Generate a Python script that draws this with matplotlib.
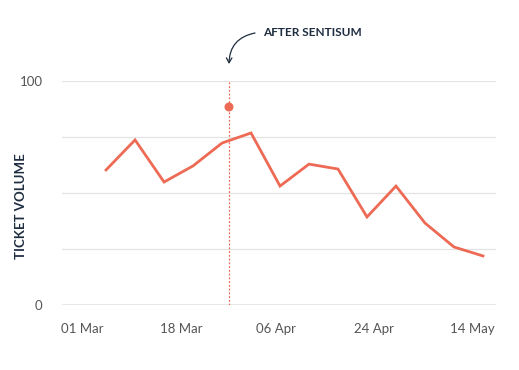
import matplotlib
matplotlib.use("Agg")
import matplotlib.pyplot as plt
import numpy as np

# data
week_index = list(range(14))
ticket_volume = [60.3, 73.7, 54.9, 62.1, 72.3, 76.8, 53.1, 62.9, 60.7, 39.3, 53.1, 36.6, 25.9, 21.9]
marker_x = [4.24]
marker_y = [88.4]
event_x = 4.24
tick_positions = [-0.83, 2.59, 5.86, 9.24, 12.62]
tick_labels = ["01 Mar", "18 Mar", "06 Apr", "24 Apr", "14 May"]
y_ticks = [0, 100]

plt.rcParams['font.family'] = ['Lato', 'DejaVu Sans']

LINE = "#ED6A55"
NAVY = "#1E2D40"

fig = plt.figure(figsize=(5.19, 3.70), dpi=100)
ax = fig.add_axes([62/519, 1-305/370, (496-62)/519, (305-81)/370])

ax.set_xlim(-1.52, 13.45)
ax.set_ylim(0, 100)

for g in [25, 50, 75, 100]:
    ax.axhline(g, color="#e3e3e3", lw=0.9, zorder=0)
ax.axhline(0, color="#8a8a8a", lw=1.0, zorder=1)

ax.plot(week_index, ticket_volume, color=LINE, lw=2.0, solid_joinstyle="miter", zorder=3)
ax.scatter(marker_x, marker_y, s=42, color=LINE, zorder=4, edgecolors="none")
ax.axvline(event_x, color=LINE, lw=0.9, ls=(0, (1.5, 1.5)), zorder=2)

for s in ax.spines.values():
    s.set_visible(False)

ax.set_yticks(y_ticks)
ax.set_yticklabels([str(v) for v in y_ticks])
ax.set_xticks(tick_positions)
ax.set_xticklabels(tick_labels)
ax.tick_params(axis="both", length=0, labelsize=9.5, labelcolor="#555555")
ax.tick_params(axis="y", pad=14)
ax.tick_params(axis="x", pad=13)

fig.text(21/519, 1-206/370, "TICKET VOLUME", rotation=90, ha="center", va="center",
         fontsize=9.5, fontweight="bold", color=NAVY)

fig.text(263/519, 1-33/370, "AFTER SENTISUM", ha="left", va="center",
         fontsize=8.5, color=NAVY, fontweight="bold")
ax.annotate("", xy=(229/519, 1-64/370), xycoords="figure fraction",
            xytext=(255/519, 1-33/370), textcoords="figure fraction",
            arrowprops=dict(arrowstyle="->,head_length=0.35,head_width=0.2", color=NAVY, lw=0.9,
                            connectionstyle="arc3,rad=0.4",
                            shrinkA=0, shrinkB=0))

fig.savefig("out.png", dpi=100, facecolor="white")
